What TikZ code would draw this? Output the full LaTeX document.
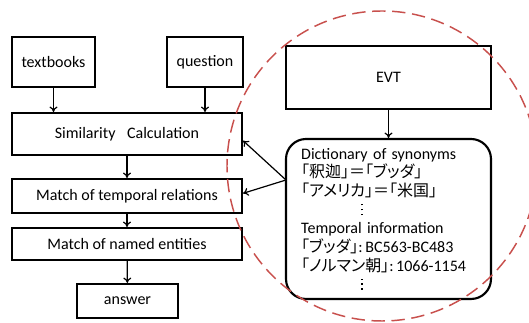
\documentclass[tikz,border=0pt]{standalone}
\usepackage{fontspec}
\setmainfont{Carlito}
\newfontfamily\jp[Scale=1.0,RawFeature={+palt}]{Noto Sans CJK JP}
\usepackage{xcolor}
\usepackage{tikz}
\usetikzlibrary{positioning}
\usetikzlibrary{arrows.meta}
\definecolor{evtred}{RGB}{200,80,77}
\newcommand\onedot{\hbox{\rule{1.1pt}{1.1pt}}}
\newcommand\moredots{\hspace*{45pt}\vbox{\offinterlineskip\onedot\kern2.6pt\onedot\kern2.6pt\onedot}}

\begin{document}
\begin{tikzpicture}
                    [
                    x=0.75pt, y=-0.75pt,
                    font=\fontsize{12}{14}\selectfont,
                    box/.style={shape = rectangle, draw, line width=1.6pt, align = center, inner sep=0pt},
                    dictbox/.style={shape = rectangle, draw, line width=1.6pt, rounded corners=15pt, text width = 131pt, align = left, inner xsep=11.25pt, minimum width=153.75pt, minimum height=120pt},
                    arr/.style={-{To[length=4pt,width=6pt]}, line width=0.9pt},
                    ]
                    \useasboundingbox (0,0) rectangle (529,323);
                    % % left column
                    \node[box, minimum width=62.25pt, minimum height=37.5pt] (textbooks) at (53.5,62) {textbooks};
                    \node[box, minimum width=57pt, minimum height=37.5pt] (question) at (205,62) {question};
                    \node[box, minimum width=172.5pt, minimum height=31.5pt] (sim) at (127,134) {Similarity\hspace{6pt} Calculation};
                    \node[box, minimum width=172.5pt, minimum height=25.5pt] (temporal) at (127,196) {Match of temporal relations};
                    \node[box, minimum width=172.5pt, minimum height=24pt] (named) at (127,244) {Match of named entities};
                    \node[box, minimum width=75.75pt, minimum height=25.5pt] (answer) at (127.5,301) {answer};
                    % % right column
                    \node[box, minimum width=153.75pt, minimum height=47.25pt] (EVT) at (388.5,77.5) {EVT};
                    \node[dictbox] (dict) at (388.5,219) {Dictionary of synonyms\\
                        {\jp 「釈迦」＝「ブッダ」}\\
                        {\jp 「アメリカ」＝「米国」}\\
                        \moredots\\
                        Temporal information\\
                        {\jp 「ブッダ」}:\,BC563-BC483\\
                        {\jp 「ノルマン朝」}:\,1066-1154\\
                        \moredots};
                    \coordinate (hub) at (286,180);
                    %
                    \draw[arr] (textbooks) -- (textbooks |- sim.north);
                    \draw[arr] (question) -- (question |- sim.north);
                    \draw[arr] (sim) -- (temporal);
                    \draw[arr] (temporal) -- (named);
                    \draw[arr] (named) -- (answer);
                    \draw[arr] (EVT) -- (dict);
                    \draw[arr] (hub) -- ([yshift=-5pt]sim.east);
                    \draw[arr] (hub) -- ([yshift=2pt]temporal.east);
                    % % dashed region
                    \draw[evtred, line width=1.1pt, dash pattern=on 10pt off 5pt] (382,166) circle[radius=116.25pt];
\end{tikzpicture}
\end{document}
